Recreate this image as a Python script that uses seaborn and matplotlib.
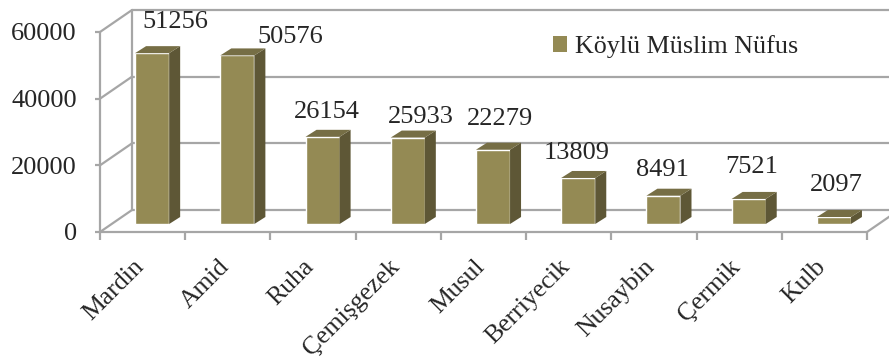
import numpy as np
import pandas as pd
import seaborn as sns
import matplotlib.pyplot as plt
from matplotlib.patches import Polygon, Patch
from matplotlib.transforms import ScaledTranslation

# data
districts = ["Mardin", "Amid", "Ruha", "Çemişgezek", "Musul",
             "Berriyecik", "Nusaybin", "Çermik", "Kulb"]
population = [51256, 50576, 26154, 25933, 22279, 13809, 8491, 7521, 2097]
y_ticks = [0, 20000, 40000, 60000]
series_name = "Köylü Müslim Nüfus"

# label placement (pixels from category centre / bar top), as Excel placed them
label_dx_px = [33, 62, 14, 23, 17, 8, 8, 13, 12]
label_dy_px = [31, 18, 25, 21, 31, 25, 26, 32, 32]

df = pd.DataFrame({"district": districts, "population": population})

front_col = "#948A54"
side_col = "#5E5736"
top_col = "#766E45"
grid_col = "#A6A6A6"

sns.set_style("white")
plt.rcParams["font.family"] = ["Liberation Serif", "DejaVu Serif"]

fig = plt.figure(figsize=(8.89, 3.59), dpi=100)
ax = fig.add_axes([100 / 889, 1 - 232 / 359, 767 / 889, 200 / 359])

sns.barplot(data=df, x="district", y="population", color=front_col,
            width=0.4, saturation=1, ax=ax, zorder=3)

ax.set_xlim(-0.5, 8.5)
ax.set_ylim(0, 60000)

# pixel -> data conversions (x: 85.2 px per category, y: 200 px per 60000)
px_x = 1 / 85.2
px_y = 60000 / 200

# shift the bars into the middle of the floor depth
shift = ScaledTranslation(0.095, 0.08, fig.dpi_scale_trans)
ddx, ddy = 11 * px_x, 7 * px_y
for p in list(ax.patches):
    p.set_transform(ax.transData + shift)
    p.set_clip_on(False)
    x, w, h = p.get_x(), p.get_width(), p.get_height()
    side = Polygon([(x + w, 0), (x + w + ddx, ddy), (x + w + ddx, h + ddy), (x + w, h)],
                   closed=True, facecolor=side_col, edgecolor="none",
                   transform=ax.transData + shift, clip_on=False, zorder=3)
    top = Polygon([(x, h), (x + w, h), (x + w + ddx, h + ddy), (x + ddx, h + ddy)],
                  closed=True, facecolor=top_col, edgecolor="none",
                  transform=ax.transData + shift, clip_on=False, zorder=3)
    ax.add_patch(side)
    ax.add_patch(top)

# 3d frame: back wall, floor and diagonals
bx, by = 32 * px_x, 22 * px_y
lw = 1.6
for v in y_ticks:
    ax.plot([-0.5, -0.5 + bx], [v, v + by], color=grid_col, lw=lw, clip_on=False, zorder=1)
    ax.plot([-0.5 + bx, 8.5 + bx + 0.2], [v + by, v + by], color=grid_col, lw=lw,
            clip_on=False, zorder=1)
ax.plot([-0.5 + bx, -0.5 + bx], [by, 60000 + by], color=grid_col, lw=lw, clip_on=False, zorder=1)
ax.plot([8.5, 8.5 + bx], [0, by], color=grid_col, lw=lw, clip_on=False, zorder=1)
ax.plot([-0.5, 8.5], [0, 0], color=grid_col, lw=lw, clip_on=False, zorder=2)
ax.plot([-0.5, -0.5], [0, 60000], color=grid_col, lw=lw, clip_on=False, zorder=2)

for s in ax.spines.values():
    s.set_visible(False)

# value labels
for i, v in enumerate(population):
    off = ScaledTranslation(label_dx_px[i] / 100, (8 + label_dy_px[i]) / 100,
                            fig.dpi_scale_trans)
    ax.text(i, v, f"{v}", ha="center", va="center", fontsize=19,
            transform=ax.transData + off, clip_on=False)

# ticks
ax.set_yticks(y_ticks)
ax.set_yticklabels([str(t) for t in y_ticks], fontsize=19)
ax.tick_params(axis="y", length=3.6, width=lw, color=grid_col, pad=13, left=True)
ax.set_xticks(np.arange(len(districts)))
ax.set_xticklabels(districts, fontsize=18.5, rotation=45, ha="right", rotation_mode="anchor")
ax.tick_params(axis="x", length=0, pad=17)
ax.set_xticks(np.arange(-0.5, 9, 1), minor=True)
ax.tick_params(axis="x", which="minor", length=5.8, width=lw, color=grid_col, bottom=True)
tick_shift = ScaledTranslation(-0.10, 0.0, fig.dpi_scale_trans)
for lab in ax.get_xticklabels():
    lab.set_transform(lab.get_transform() + tick_shift)
ax.set_xlabel("")
ax.set_ylabel("")

handle = Patch(facecolor=front_col, edgecolor="none")
fig.legend(handles=[handle], labels=[series_name], loc="center left",
           bbox_to_anchor=(553 / 889, 1 - 47 / 359), frameon=False, fontsize=18.7,
           handlelength=0.55, handleheight=0.55, handletextpad=0.3,
           borderpad=0, borderaxespad=0)

fig.savefig("out.png", dpi=100)
